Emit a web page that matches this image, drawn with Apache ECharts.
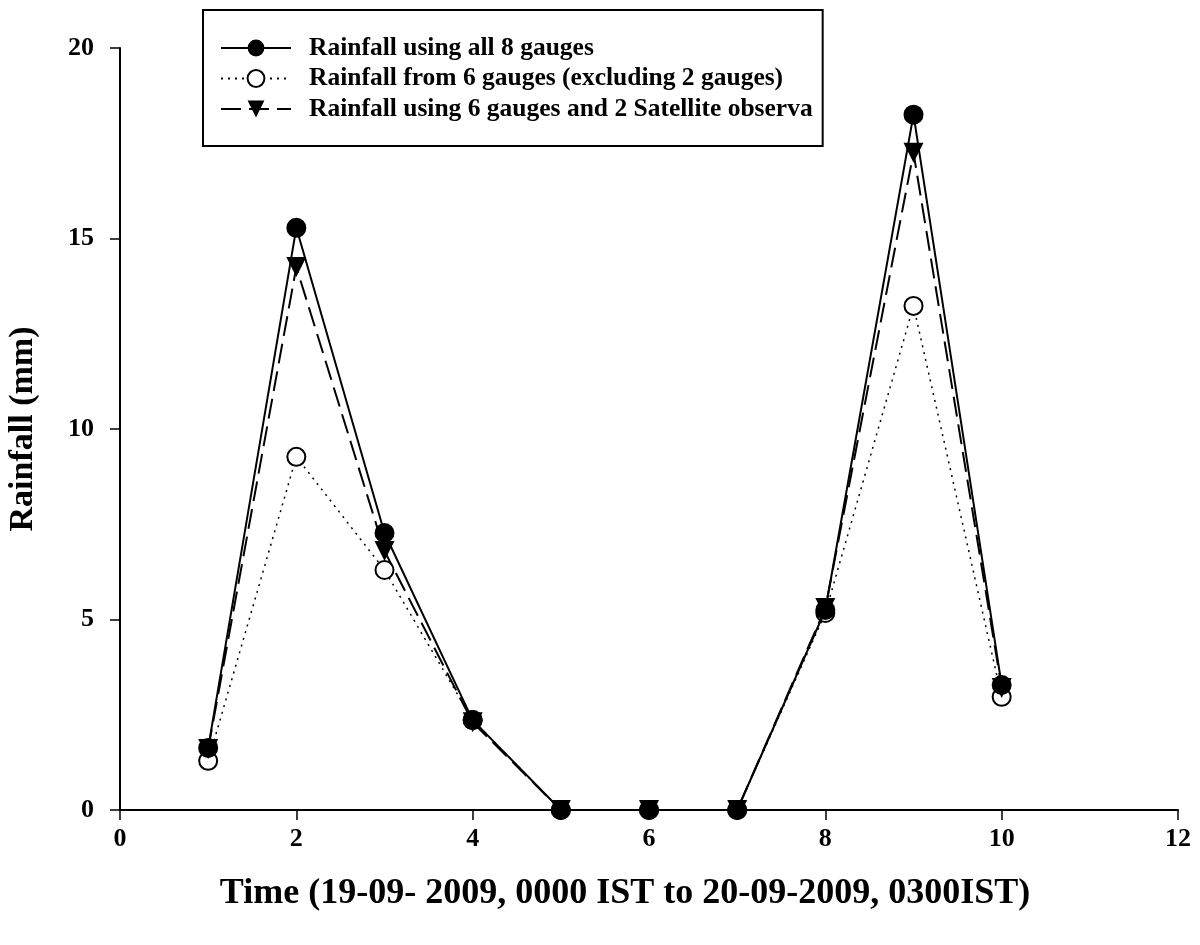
<!DOCTYPE html>
<html>
<head>
<meta charset="utf-8">
<script src="https://cdn.jsdelivr.net/npm/echarts@6/dist/echarts.min.js"></script>
<style>
  html, body { margin: 0; padding: 0; background: #fff; }
  #chart { width: 1200px; height: 945px; }
</style>
</head>
<body>
<div id="chart"></div>
<script>
// time steps
var timeSteps = [1, 2, 3, 4, 5, 6, 7, 8, 9, 10];
// rainfall (mm)
var allGauges = [1.63, 15.28, 7.27, 2.36, 0, 0, 0, 5.25, 18.25, 3.28];
var sixGauges = [1.29, 9.27, 6.3, 2.36, 0, 0, 0, 5.17, 13.23, 2.97];
var sixPlusSat = [1.6, 14.25, 6.8, 2.3, 0, 0, 0, 5.3, 17.25, 3.2];

var seriesNames = [
  'Rainfall using all 8 gauges',
  'Rainfall from 6 gauges (excluding 2 gauges)',
  'Rainfall using 6 gauges and 2 Satellite observa'
];

function pairs(vals) {
  return timeSteps.map(function (t, i) { return [t, vals[i]]; });
}

var serif = '"Liberation Serif", "Times New Roman", serif';

var chartDom = document.getElementById('chart');
var myChart = echarts.init(chartDom);
var option;

option = {
  backgroundColor: '#fff',
  animation: false,
  grid: { left: 120, right: 22, top: 48, bottom: 135, outerBoundsMode: 'none' },
  legend: {
    orient: 'vertical',
    left: 203,
    top: 10,
    padding: [25, 10, 24, 17],
    itemGap: 4.5,
    itemWidth: 70,
    itemHeight: 21,
    borderColor: '#000',
    borderWidth: 2,
    textStyle: {
      fontFamily: serif,
      fontWeight: 'bold',
      fontSize: 25.5,
      color: '#000',
      padding: [0, 0, 0, 13]
    },
    data: seriesNames
  },
  xAxis: {
    type: 'value',
    min: 0,
    max: 12,
    interval: 2,
    name: 'Time (19-09- 2009, 0000 IST to 20-09-2009, 0300IST)',
    nameLocation: 'middle',
    nameGap: 66,
    nameTextStyle: {
      fontFamily: serif,
      fontWeight: 'bold',
      fontSize: 36,
      color: '#000',
      padding: [0, 48, 0, 0]
    },
    axisLine: { lineStyle: { color: '#000', width: 2 } },
    axisTick: { length: 10, lineStyle: { color: '#000', width: 1.5 } },
    axisLabel: {
      margin: 16,
      fontFamily: serif,
      fontWeight: 'bold',
      fontSize: 26,
      color: '#000'
    },
    splitLine: { show: false }
  },
  yAxis: {
    type: 'value',
    min: 0,
    max: 20,
    interval: 5,
    name: 'Rainfall (mm)',
    nameLocation: 'middle',
    nameGap: 80,
    nameTextStyle: {
      fontFamily: serif,
      fontWeight: 'bold',
      fontSize: 34,
      color: '#000'
    },
    axisLine: { show: true, lineStyle: { color: '#000', width: 2 } },
    axisTick: { show: true, length: 10, lineStyle: { color: '#000', width: 1.5 } },
    axisLabel: {
      margin: 26,
      fontFamily: serif,
      fontWeight: 'bold',
      fontSize: 26,
      color: '#000'
    },
    splitLine: { show: false }
  },
  series: [
    {
      name: seriesNames[1],
      type: 'line',
      data: pairs(sixGauges),
      symbol: 'circle',
      symbolSize: 18,
      itemStyle: { color: '#fff', borderColor: '#000', borderWidth: 2 },
      lineStyle: { color: '#000', width: 1.5, type: [2, 5] },
      z: 2
    },
    {
      name: seriesNames[2],
      type: 'line',
      data: pairs(sixPlusSat),
      symbol: 'triangle',
      symbolRotate: 180,
      symbolSize: 20,
      itemStyle: { color: '#000' },
      lineStyle: { color: '#000', width: 2, type: [20, 8] },
      z: 3
    },
    {
      name: seriesNames[0],
      type: 'line',
      data: pairs(allGauges),
      symbol: 'circle',
      symbolSize: 20,
      itemStyle: { color: '#000' },
      lineStyle: { color: '#000', width: 2 },
      z: 4
    }
  ]
};

option && myChart.setOption(option);
</script>
</body>
</html>
